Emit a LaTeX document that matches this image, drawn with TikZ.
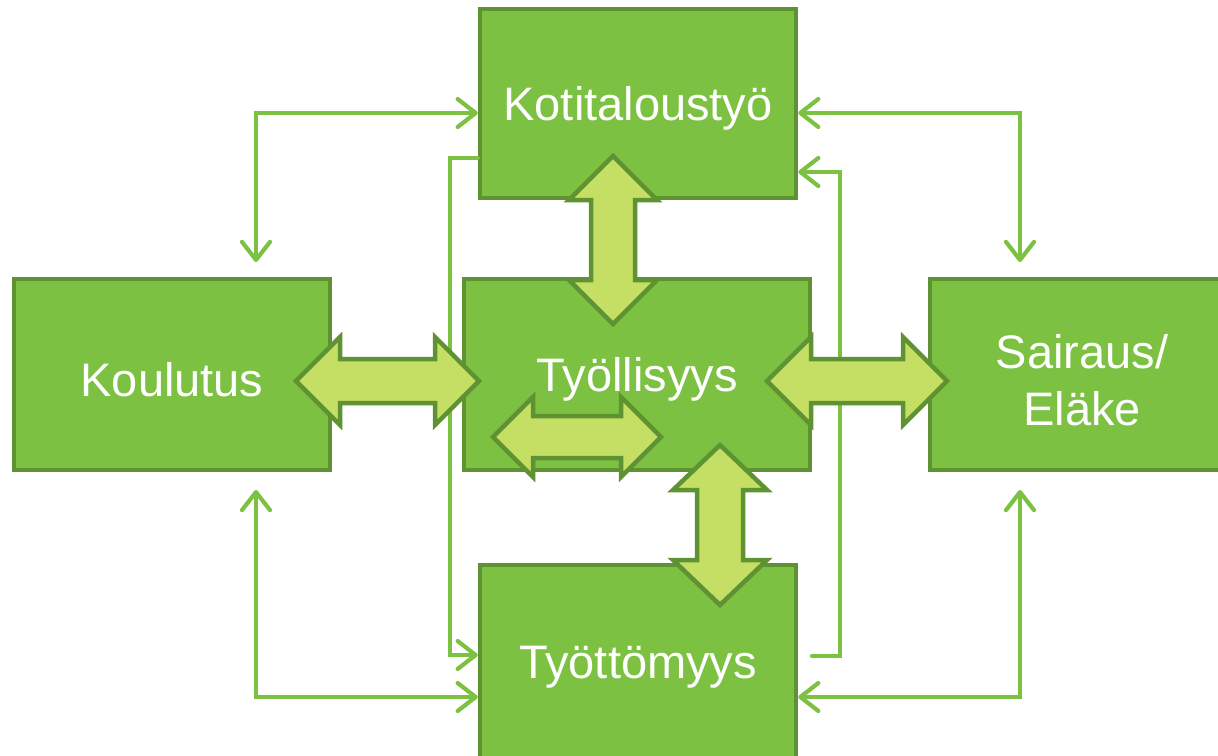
\documentclass[tikz,border=0pt]{standalone}
\usepackage{fontspec}
\setmainfont{Liberation Sans}
\usetikzlibrary{arrows.meta}
\definecolor{boxfill}{HTML}{7CC142}
\definecolor{boxline}{HTML}{5E9232}
\definecolor{arrfill}{HTML}{C4DF64}
\tikzset{
  gbox/.style={draw=boxline, fill=boxfill, line width=4.5pt, inner sep=0pt},
  lbl/.style={text=white, align=center, font=\fontsize{47}{57}\selectfont, inner sep=0pt, yshift=-5pt},
  tline/.style={draw=boxfill, line width=4.2pt, line cap=round},
  ttip/.tip={Straight Barb[length=18pt,width=28pt,round]},
  barrow/.style={draw=boxline, fill=arrfill, line width=4.5pt, line join=miter}
}
\begin{document}
\begin{tikzpicture}[x=1pt,y=-1pt]
\useasboundingbox (0,0) rectangle (1218,755);
\clip (0,0) rectangle (1218,755);

% boxes
\node[gbox, minimum width=316pt, minimum height=189pt, label={[lbl]center:Kotitaloustyö}] (kot) at (638,103.5) {};
\node[gbox, minimum width=316pt, minimum height=191pt, label={[lbl]center:Koulutus}] (kou) at (172,374.5) {};
\node[gbox, minimum width=346pt, minimum height=191pt, label={[lbl]center:Työllisyys}] (tyo) at (637,374.5) {};
\node[gbox, minimum width=304pt, minimum height=191pt, label={[lbl, yshift=-1pt]center:Sairaus/\\Eläke}] (sai) at (1082,374.5) {};
\node[gbox, minimum width=316pt, minimum height=194pt, label={[lbl]center:Työttömyys}] (tyt) at (638,662) {};

% thin connectors
\coordinate (kouN) at (256,262);
\coordinate (kouS) at (256,490);
\coordinate (saiN) at (1020,262);
\coordinate (saiS) at (1020,490);
\coordinate (tytE) at (812,656);

\draw[tline, ttip-ttip] (kouN) |- (kot.west |- 0,113);
\draw[tline, ttip-ttip] (kot.east |- 0,113) -| (saiN);
\draw[tline, ttip-ttip] (kouS) |- (tyt.west |- 0,697);
\draw[tline, ttip-ttip] (tyt.east |- 0,697) -| (saiS);
\draw[tline, -ttip] (kot.west |- 0,158) -| (450,655) -- (tyt.west |- 0,655);
\draw[tline, -ttip] (tytE) -| (840,172) -- (kot.east |- 0,172);

% block arrows
% Koulutus <-> Tyollisyys
\draw[barrow] (296,381) -- (340,337) -- (340,359) -- (435,359) -- (435,337) -- (479,381)
  -- (435,425) -- (435,403) -- (340,403) -- (340,425) -- cycle;
% Tyollisyys <-> Sairaus
\draw[barrow] (767,381) -- (811,337) -- (811,359) -- (903,359) -- (903,337) -- (947,381)
  -- (903,425) -- (903,403) -- (811,403) -- (811,425) -- cycle;
% Kotitaloustyo <-> Tyollisyys
\draw[barrow] (613,156) -- (657,200) -- (635,200) -- (635,280) -- (657,280) -- (613,324)
  -- (569,280) -- (591,280) -- (591,200) -- (569,200) -- cycle;
% small arrow inside Tyollisyys
\draw[barrow] (493,437) -- (533,397) -- (533,416) -- (621,416) -- (621,397) -- (661,437)
  -- (621,477) -- (621,458) -- (533,458) -- (533,477) -- cycle;
% Tyollisyys <-> Tyottomyys
\draw[barrow] (720,445) -- (767,490) -- (743,490) -- (743,560) -- (767,560) -- (720,605)
  -- (673,560) -- (697,560) -- (697,490) -- (673,490) -- cycle;
\end{tikzpicture}
\end{document}
